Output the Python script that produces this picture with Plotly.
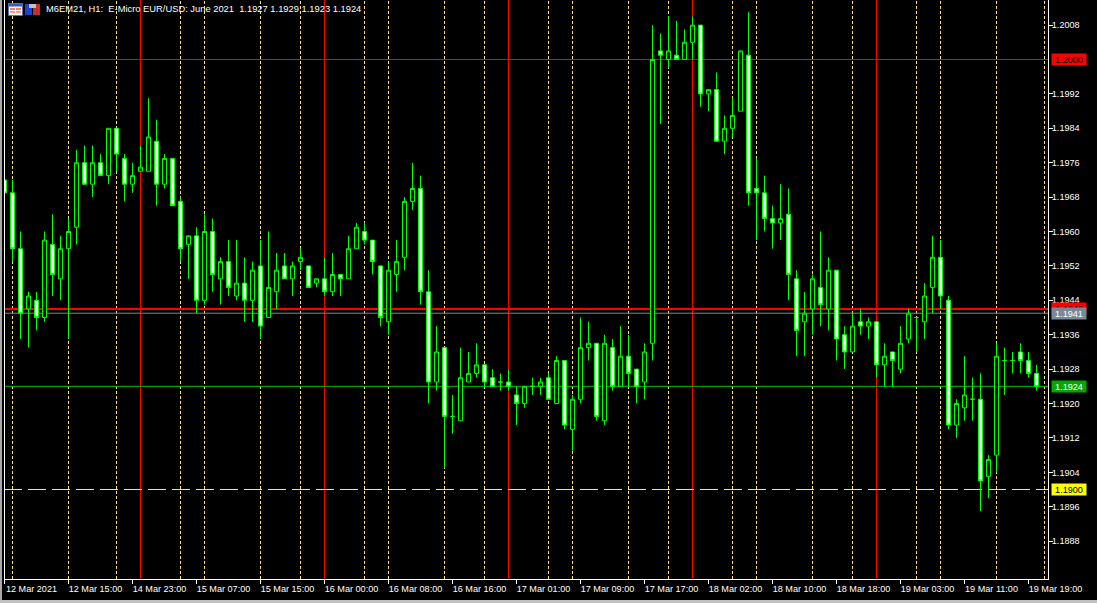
import plotly.graph_objects as go

W, H = 1097, 603
L, R, T, B = 4, 1048, 0, 579

# bar index on the time axis: one bar per traded hour
bars = list(range(130))

opens = [1.1972,1.1969,1.1956,1.1942,1.1944,1.1940,1.1957,1.1949,1.1956,1.1961,
         1.1976,1.1971,1.1976,1.1973,1.1984,1.1977,1.1971,1.1974,1.1974,1.1981,
         1.1971,1.1977,1.1967,1.1957,1.1959,1.1944,1.1960,1.1949,1.1953,1.1945,
         1.1948,1.1944,1.1952,1.1940,1.1946,1.1952,1.1949,1.1953,1.1952,1.1948,
         1.1949,1.1946,1.1950,1.1949,1.1956,1.1960,1.1958,1.1952,1.1939,1.1950,
         1.1954,1.1967,1.1970,1.1946,1.1925,1.1933,1.1917,1.1916,1.1925,1.1927,
         1.1929,1.1926,1.1925,1.1925,1.1922,1.1920,1.1924,1.1924,1.1926,1.1920,
         1.1930,1.1914,1.1921,1.1933,1.1934,1.1916,1.1933,1.1924,1.1931,1.1928,
         1.1925,1.1934,1.2002,1.2000,1.2001,1.2000,1.2004,1.2008,1.1992,1.1993,
         1.1981,1.1984,1.1988,1.2001,1.1970,1.1969,1.1963,1.1962,1.1964,1.1949,
         1.1939,1.1942,1.1947,1.1942,1.1951,1.1936,1.1932,1.1939,1.1938,1.1939,
         1.1929,1.1932,1.1928,1.1935,1.1940,1.1939,1.1947,1.1954,1.1944,1.1915,
         1.1919,1.1921,1.1921,1.1903,1.1908,1.1930,1.1930,1.1932,1.1930,1.1927]
highs = [1.1972,1.1972,1.1960,1.1946,1.1946,1.1960,1.1964,1.1959,1.1963,1.1979,
         1.1980,1.1980,1.1978,1.1984,1.1984,1.1978,1.1976,1.1980,1.1991,1.1986,
         1.1978,1.1977,1.1968,1.1959,1.1961,1.1964,1.1963,1.1954,1.1958,1.1958,
         1.1954,1.1953,1.1958,1.1960,1.1955,1.1955,1.1953,1.1956,1.1952,1.1949,
         1.1954,1.1955,1.1950,1.1959,1.1962,1.1962,1.1958,1.1952,1.1953,1.1958,
         1.1968,1.1976,1.1973,1.1951,1.1938,1.1933,1.1922,1.1933,1.1932,1.1934,
         1.1929,1.1928,1.1927,1.1928,1.1924,1.1924,1.1926,1.1926,1.1927,1.1931,
         1.1930,1.1922,1.1940,1.1939,1.1934,1.1936,1.1935,1.1938,1.1936,1.1928,
         1.1934,1.2008,1.2006,1.2010,1.2009,1.2007,1.2010,1.2008,1.1993,1.1997,
         1.1987,1.1991,1.2002,1.2011,1.1977,1.1973,1.1966,1.1971,1.1970,1.1951,
         1.1946,1.1950,1.1960,1.1954,1.1951,1.1938,1.1941,1.1942,1.1940,1.1939,
         1.1934,1.1932,1.1938,1.1942,1.1940,1.1948,1.1959,1.1958,1.1945,1.1921,
         1.1931,1.1926,1.1927,1.1908,1.1934,1.1933,1.1932,1.1934,1.1932,1.1929]
lows = [1.1969,1.1953,1.1935,1.1933,1.1937,1.1939,1.1945,1.1944,1.1935,1.1957,
        1.1971,1.1968,1.1973,1.1971,1.1974,1.1967,1.1969,1.1974,1.1974,1.1966,
        1.1970,1.1966,1.1953,1.1949,1.1941,1.1943,1.1946,1.1943,1.1945,1.1944,
        1.1939,1.1939,1.1935,1.1940,1.1942,1.1949,1.1945,1.1951,1.1947,1.1947,
        1.1945,1.1945,1.1945,1.1949,1.1956,1.1957,1.1950,1.1938,1.1936,1.1946,
        1.1951,1.1965,1.1943,1.1920,1.1923,1.1905,1.1913,1.1916,1.1925,1.1926,
        1.1924,1.1924,1.1923,1.1923,1.1915,1.1919,1.1922,1.1922,1.1921,1.1920,
        1.1914,1.1909,1.1920,1.1930,1.1916,1.1915,1.1923,1.1924,1.1924,1.1920,
        1.1921,1.1930,1.1985,1.1998,1.2000,1.2000,1.2000,1.1989,1.1988,1.1981,
        1.1978,1.1982,1.1988,1.1966,1.1958,1.1960,1.1956,1.1958,1.1944,1.1931,
        1.1931,1.1936,1.1938,1.1937,1.1930,1.1928,1.1932,1.1936,1.1935,1.1926,
        1.1924,1.1924,1.1927,1.1934,1.1932,1.1935,1.1941,1.1942,1.1914,1.1912,
        1.1916,1.1916,1.1895,1.1898,1.1904,1.1922,1.1927,1.1927,1.1926,1.1923]
closes = [1.1969,1.1956,1.1941,1.1945,1.1940,1.1958,1.1950,1.1956,1.1960,1.1976,
          1.1971,1.1976,1.1973,1.1984,1.1978,1.1971,1.1973,1.1975,1.1982,1.1971,
          1.1977,1.1966,1.1956,1.1959,1.1944,1.1960,1.1950,1.1953,1.1947,1.1948,
          1.1944,1.1951,1.1938,1.1947,1.1951,1.1949,1.1952,1.1954,1.1947,1.1949,
          1.1946,1.1950,1.1949,1.1956,1.1961,1.1958,1.1953,1.1940,1.1951,1.1953,
          1.1967,1.1970,1.1946,1.1925,1.1932,1.1917,1.1917,1.1926,1.1927,1.1929,
          1.1925,1.1924,1.1925,1.1924,1.1920,1.1924,1.1924,1.1925,1.1921,1.1930,
          1.1915,1.1921,1.1933,1.1934,1.1917,1.1934,1.1924,1.1931,1.1927,1.1924,
          1.1932,1.2000,1.2001,1.2002,1.2000,1.2004,1.2008,1.1992,1.1993,1.1981,
          1.1984,1.1987,1.2002,1.1969,1.1969,1.1963,1.1962,1.1963,1.1950,1.1937,
          1.1941,1.1949,1.1943,1.1951,1.1935,1.1932,1.1938,1.1938,1.1939,1.1929,
          1.1931,1.1930,1.1934,1.1941,1.1940,1.1945,1.1954,1.1945,1.1915,1.1920,
          1.1922,1.1921,1.1902,1.1907,1.1931,1.1930,1.1930,1.1930,1.1927,1.1924]

day_lines = [17, 40, 63, 86, 109]
session_lines = [1, 8, 14, 22, 25, 32, 37, 45, 48, 55, 60, 68, 71, 78, 83, 91, 94,
                 101, 106, 114, 117, 124, 130]

time_ticks = list(range(0, 130, 8))
time_labels = ["12 Mar 2021", "12 Mar 15:00", "14 Mar 23:00", "15 Mar 07:00", "15 Mar 15:00",
               "16 Mar 00:00", "16 Mar 08:00", "16 Mar 16:00", "17 Mar 01:00", "17 Mar 09:00",
               "17 Mar 17:00", "18 Mar 02:00", "18 Mar 10:00", "18 Mar 18:00", "19 Mar 03:00",
               "19 Mar 11:00", "19 Mar 19:00"]
price_ticks = [1.2008, 1.1992, 1.1984, 1.1976, 1.1968, 1.1960, 1.1952, 1.1944, 1.1936,
               1.1928, 1.1920, 1.1912, 1.1904, 1.1896, 1.1888]
title_text = "M6EM21, H1:  E-Micro EUR/USD: June 2021  1.1927 1.1929 1.1923 1.1924"

# horizontal price levels and the boxes on the price scale
levels = [(1.2000, "#FF0000", 1, "solid"), (1.1942, "#FF0000", 2, "solid"),
          (1.1941, "#778899", 1, "solid"), (1.1924, "#00C000", 1, "solid"),
          (1.1900, "#FFFF00", 1, "18px,6px")]
boxes = [(1.2000, "#FF0000", "#000000"), (1.1942, "#FF0000", "#000000"),
         (1.1941, "#778899", "#FFFFFF"), (1.1924, "#00A800", "#FFFFFF"),
         (1.1900, "#FFFF00", "#000000")]

GREEN = "#00FF00"
FONT = "Liberation Sans"

def px(x):
    return (x - L) / (R - L)

def py(y):
    return (B - y) / (B - T)

fig = go.Figure(go.Candlestick(
    x=bars, open=opens, high=highs, low=lows, close=closes, whiskerwidth=0,
    increasing=dict(fillcolor="#000000", line=dict(color=GREEN, width=1)),
    decreasing=dict(fillcolor="#FFFFFF", line=dict(color=GREEN, width=1)),
    showlegend=False, hoverinfo="skip"))

shapes = []
for k in session_lines:
    shapes.append(dict(type="line", layer="below", xref="x", yref="paper", x0=k, x1=k, y0=0, y1=1,
                       line=dict(color="#FFE08C", width=1, dash="3px,2px")))
for k in day_lines:
    shapes.append(dict(type="line", layer="below", xref="x", yref="paper", x0=k, x1=k, y0=0, y1=1,
                       line=dict(color="#FF0000", width=1)))
for p, c, w, d in levels:
    shapes.append(dict(type="line", layer="below", xref="paper", yref="y", x0=0, x1=1, y0=p, y1=p,
                       line=dict(color=c, width=w, dash=d)))

def rect(x0, y0, x1, y1, fill, line=None):
    shapes.append(dict(type="rect", xref="paper", yref="paper", x0=px(x0), x1=px(x1), y0=py(y0), y1=py(y1),
                       fillcolor=fill, line=dict(color=line or fill, width=1 if line else 0)))

# window edges and the left frame line of the chart
rect(0, 0, 2, 603, "#A8A8A8")
rect(0, 600, 1097, 603, "#C0C0C0")
rect(4, 0, 5, 579, "#FFFFFF")
# header icons
rect(8.5, 3.5, 22.5, 15.5, "#F4F4F4", "#5070B0")
rect(9, 4, 22, 6.5, "#3060C0")
rect(10, 8, 15, 10, "#F08070")
rect(16, 8, 21, 10, "#F08070")
rect(10, 11, 15, 13, "#F0A090")
rect(16, 11, 21, 13, "#F0A090")
rect(25, 4, 32, 15, "#2040D0")
rect(33, 4, 40, 15, "#C03030")
rect(29, 4, 36, 8, "#C0C0C0")

annotations = [dict(text=title_text, xref="paper", yref="paper", x=px(44), y=py(9), xanchor="left",
                    yanchor="middle", showarrow=False, font=dict(family=FONT, size=9.36, color="#FFFFFF"))]
for p, bg, fg in boxes:
    annotations.append(dict(text=f"{p:.4f}", xref="paper", yref="y", x=px(1051), y=p, xanchor="left",
                            yanchor="middle", showarrow=False, width=34, height=11, bgcolor=bg, borderpad=0,
                            align="center", font=dict(family=FONT, size=9.1, color=fg)))

fig.update_layout(
    width=W, height=H, margin=dict(l=L, r=W - R, t=T, b=H - B, pad=0), autosize=False,
    paper_bgcolor="#000000", plot_bgcolor="#000000", shapes=shapes, annotations=annotations,
    hovermode=False, dragmode=False, showlegend=False, boxgap=0.5, boxgroupgap=0,
    xaxis=dict(range=[-0.0625, 130.4375], tickmode="array", tickvals=time_ticks, ticktext=time_labels,
               showgrid=False, zeroline=False, showline=True, linecolor="#FFFFFF", linewidth=1,
               ticks="outside", ticklen=4, tickwidth=1, tickcolor="#FFFFFF", ticklabelshift=27,
               ticklabelstandoff=-3, ticklabeloverflow="allow", tickangle=0,
               rangeslider=dict(visible=False), tickfont=dict(family=FONT, size=9.1, color="#FFFFFF")),
    yaxis=dict(range=[1.187919, 1.201384], side="right", tickmode="array", tickvals=price_ticks,
               ticktext=[f"{v:.4f}" for v in price_ticks], showgrid=False, zeroline=False, showline=True,
               linecolor="#FFFFFF", linewidth=1, ticks="outside", ticklen=4, tickwidth=1, ticklabelstandoff=-3,
               tickcolor="#FFFFFF", tickfont=dict(family=FONT, size=9.1, color="#FFFFFF")),
)
fig.write_html("out.html", config=dict(displayModeBar=False),
               post_script="document.body.style.margin='0';document.body.style.background='#000';")
